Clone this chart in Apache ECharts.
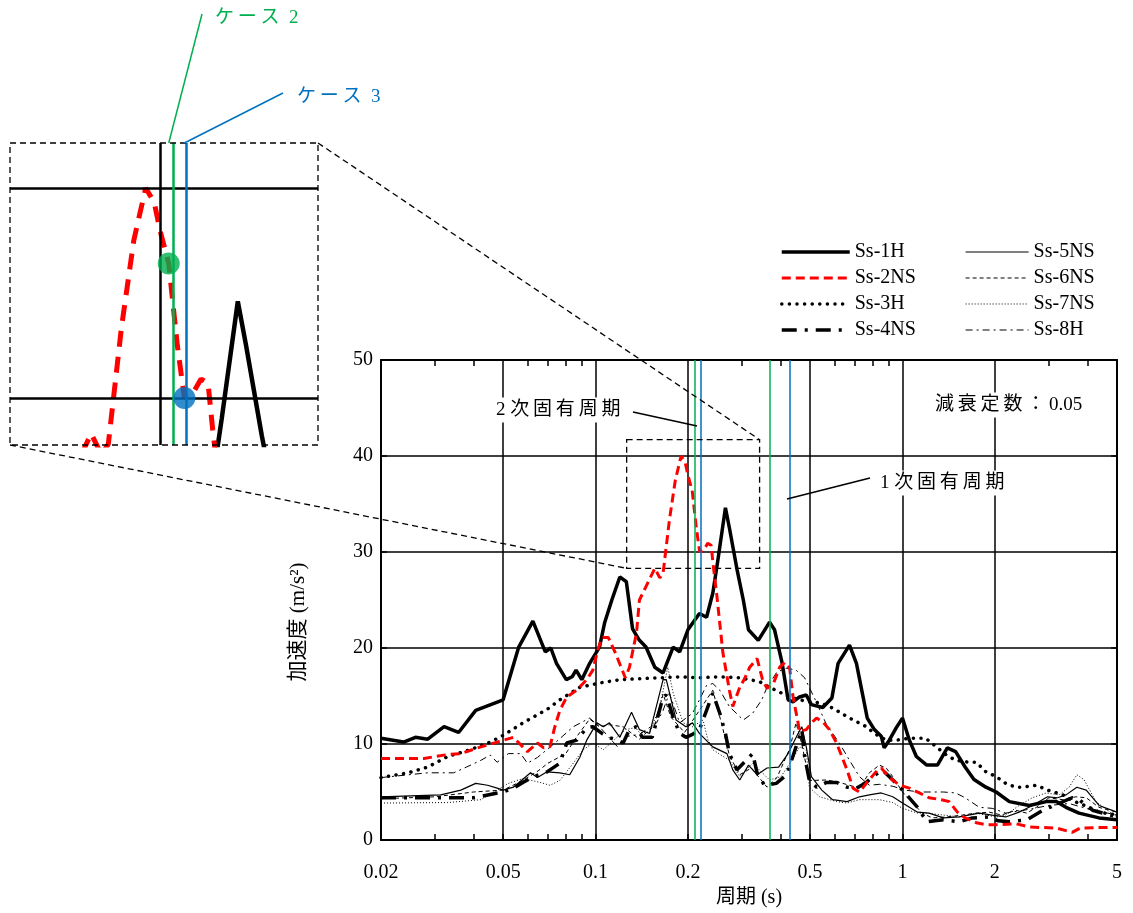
<!DOCTYPE html>
<html><head><meta charset="utf-8">
<script src="https://cdn.jsdelivr.net/npm/echarts@6/dist/echarts.min.js"></script>
<style>html,body{margin:0;padding:0;background:#fff}#c{width:1133px;height:913px}</style>
</head><body><div id="c"></div>
<script>
const FONT = "'Liberation Serif','Noto Sans CJK JP',serif";
const GREEN = '#00b050';
const BLUE = '#0070c0';

// ---- axis ticks ----
const xMajorTicks = [0.02, 0.05, 0.1, 0.2, 0.5, 1, 2, 5];
const xMinorTicks = [0.03, 0.04, 0.06, 0.07, 0.08, 0.09, 0.3, 0.4, 0.6, 0.7, 0.8, 0.9, 3, 4];
const yRange = [0, 50];
const yStep = 10;

// ---- natural periods (s) : [case 2, case 3] ----
const mode2Periods = [0.2065, 0.2185];
const mode1Periods = [0.3667, 0.4283];
const casePointValues = [36.4, 30.0]; // Ss-2NS acceleration at 2nd-mode periods

// ---- zoom box (main chart coords) and inset ranges ----
const zoomBoxX = [0.1263, 0.3424];
const zoomBoxY = [28.3, 41.7];
const insetX = [0.1164, 0.354];
const insetY = [27.76, 42.14];

// ---- series data [period (s), acceleration (m/s2)] ----
const ss1H = [[0.02,10.6],[0.0237,10.2],[0.0259,10.7],[0.0284,10.5],[0.0321,11.8],[0.0358,11.2],[0.0407,13.5],[0.05,14.6],[0.0562,20.1],[0.0625,22.8],[0.0686,19.6],[0.0715,20.0],[0.0746,18.4],[0.0803,16.7],[0.0839,17.0],[0.0864,17.7],[0.0902,16.7],[0.0957,18.4],[0.103,20.1],[0.107,22.6],[0.113,25.0],[0.12,27.4],[0.126,26.9],[0.132,22.0],[0.139,20.8],[0.146,20.1],[0.156,18.0],[0.166,17.4],[0.179,20.1],[0.188,19.6],[0.2,21.9],[0.218,23.6],[0.23,23.2],[0.241,25.7],[0.25,29.0],[0.265,34.6],[0.273,32.5],[0.289,28.2],[0.303,25.0],[0.315,21.9],[0.339,20.8],[0.369,22.7],[0.383,21.9],[0.405,18.5],[0.424,14.6],[0.44,14.4],[0.462,14.9],[0.486,15.1],[0.505,14.1],[0.55,13.8],[0.589,14.8],[0.617,18.4],[0.672,20.3],[0.708,18.4],[0.768,12.7],[0.81,11.5],[0.853,10.8],[0.872,9.6],[0.906,10.4],[0.955,11.7],[1.0,12.7],[1.053,10.4],[1.11,8.7],[1.2,7.8],[1.3,7.8],[1.4,9.6],[1.49,9.2],[1.6,7.6],[1.71,6.3],[1.87,5.5],[2.02,5.0],[2.23,4.0],[2.59,3.6],[2.94,4.0],[3.17,4.0],[3.41,3.4],[3.76,2.8],[4.37,2.3],[5.0,2.1]];
const ss2NS = [[0.02,8.5],[0.0276,8.5],[0.033,8.9],[0.0364,9.0],[0.0423,9.7],[0.0478,10.2],[0.054,10.7],[0.06,9.2],[0.0647,10.1],[0.0678,9.6],[0.071,9.7],[0.0737,11.8],[0.0765,13.5],[0.0806,14.9],[0.0868,15.6],[0.0936,16.7],[0.098,17.7],[0.1017,19.8],[0.105,21.1],[0.11,21.1],[0.116,19.5],[0.125,16.9],[0.129,18.0],[0.136,21.6],[0.139,25.0],[0.146,26.4],[0.156,28.3],[0.162,27.3],[0.166,27.8],[0.174,33.3],[0.182,37.5],[0.19,40.0],[0.196,39.3],[0.2,38.0],[0.2065,36.4],[0.213,32.5],[0.2185,30.0],[0.225,30.2],[0.232,30.9],[0.238,30.7],[0.242,28.5],[0.248,25.7],[0.26,19.5],[0.273,15.6],[0.28,13.9],[0.295,15.9],[0.307,16.9],[0.318,18.0],[0.336,18.9],[0.35,16.7],[0.362,15.8],[0.38,16.3],[0.398,18.0],[0.414,18.5],[0.429,17.9],[0.44,14.9],[0.457,12.2],[0.462,11.3],[0.486,11.5],[0.505,12.2],[0.525,12.7],[0.55,12.3],[0.578,11.5],[0.61,10.1],[0.66,7.3],[0.69,5.4],[0.724,5.0],[0.78,6.3],[0.83,7.3],[0.853,7.5],[0.906,6.5],[0.98,5.7],[1.053,5.4],[1.135,4.9],[1.22,4.4],[1.34,4.2],[1.42,4.0],[1.51,2.9],[1.6,2.3],[1.74,1.8],[1.87,1.6],[2.05,1.6],[2.34,1.7],[2.59,1.35],[3.17,1.25],[3.57,0.8],[3.8,1.25],[4.37,1.3],[5.0,1.3]];
const ss3H = [[0.02,6.5],[0.0245,7.0],[0.0284,7.6],[0.033,8.7],[0.039,9.4],[0.0454,10.2],[0.05,10.9],[0.058,12.2],[0.0695,13.6],[0.0765,14.6],[0.0888,15.9],[0.103,16.35],[0.12,16.7],[0.139,16.8],[0.162,16.9],[0.188,17.0],[0.218,16.9],[0.254,17.0],[0.295,16.9],[0.342,16.5],[0.369,15.9],[0.398,15.4],[0.429,14.9],[0.462,14.6],[0.498,14.4],[0.537,14.3],[0.592,13.75],[0.672,12.7],[0.763,11.8],[0.81,11.1],[0.885,10.4],[0.955,10.4],[1.053,10.6],[1.19,10.6],[1.29,9.7],[1.39,8.85],[1.49,8.3],[1.65,8.1],[1.74,8.1],[1.87,7.1],[2.02,6.6],[2.17,5.9],[2.34,5.5],[2.45,5.5],[2.73,5.7],[2.97,5.2],[3.33,4.7],[3.64,4.0],[4.06,3.4],[4.37,2.9],[5.0,2.6]];
const ss4NS = [[0.02,4.4],[0.031,4.4],[0.04,4.4],[0.05,5.0],[0.054,5.4],[0.058,6.0],[0.063,6.6],[0.0695,7.1],[0.0765,8.0],[0.0806,10.1],[0.0868,10.4],[0.0936,11.7],[0.098,11.8],[0.105,11.1],[0.11,10.7],[0.118,10.4],[0.123,10.1],[0.129,11.5],[0.136,11.8],[0.142,10.7],[0.153,10.7],[0.166,14.9],[0.17,15.1],[0.179,12.8],[0.188,11.1],[0.197,10.7],[0.207,11.0],[0.218,11.5],[0.23,13.5],[0.241,15.3],[0.254,13.2],[0.265,11.1],[0.273,9.0],[0.289,7.3],[0.303,8.0],[0.325,9.0],[0.336,7.0],[0.355,5.7],[0.388,5.9],[0.42,6.8],[0.45,9.7],[0.47,11.5],[0.48,8.7],[0.497,6.25],[0.525,5.5],[0.566,6.0],[0.61,6.0],[0.66,5.5],[0.708,5.4],[0.763,6.0],[0.8,6.6],[0.86,7.3],[0.93,6.25],[1.0,5.2],[1.12,3.4],[1.2,1.9],[1.36,2.1],[1.53,1.9],[1.69,2.3],[1.92,2.4],[2.05,2.0],[2.23,1.9],[2.54,2.1],[2.87,3.1],[3.57,4.4],[3.76,4.2],[4.16,3.1],[4.74,2.6],[5.0,2.4]];
const ss5NS = [[0.02,4.5],[0.0313,4.7],[0.0364,5.2],[0.0407,5.9],[0.0445,5.7],[0.0478,5.4],[0.05,5.2],[0.054,5.5],[0.0614,7.0],[0.0647,6.5],[0.0695,7.1],[0.0765,7.0],[0.0824,6.8],[0.0888,8.6],[0.0936,10.4],[0.101,12.2],[0.106,11.8],[0.111,12.2],[0.12,10.7],[0.131,13.3],[0.139,11.5],[0.15,11.1],[0.166,16.7],[0.17,16.7],[0.183,12.5],[0.197,11.8],[0.207,12.2],[0.218,11.1],[0.241,9.7],[0.268,9.0],[0.28,7.3],[0.295,6.25],[0.315,7.8],[0.336,6.8],[0.362,7.5],[0.395,7.6],[0.424,9.0],[0.457,11.1],[0.47,11.8],[0.486,9.7],[0.505,6.6],[0.546,5.2],[0.592,4.2],[0.66,4.0],[0.724,4.5],[0.78,4.7],[0.853,4.9],[0.93,4.5],[1.0,3.85],[1.12,2.9],[1.22,2.8],[1.36,2.3],[1.53,2.4],[1.78,2.8],[1.96,2.6],[2.17,2.4],[2.4,2.9],[2.65,3.6],[2.97,4.5],[3.2,4.4],[3.41,4.7],[3.7,5.5],[3.97,5.2],[4.37,3.6],[5.0,2.9]];
const ss6NS = [[0.02,4.3],[0.03,4.5],[0.04,5.0],[0.05,5.2],[0.058,6.2],[0.065,7.2],[0.07,8.0],[0.08,9.0],[0.087,10.8],[0.0957,12.6],[0.103,11.8],[0.111,12.0],[0.123,11.8],[0.139,10.5],[0.156,12.0],[0.166,15.2],[0.176,12.8],[0.195,11.2],[0.218,13.5],[0.241,15.6],[0.258,12.0],[0.273,8.8],[0.295,6.8],[0.322,7.5],[0.362,5.5],[0.39,6.5],[0.429,9.5],[0.45,12.2],[0.47,10.0],[0.497,6.2],[0.566,6.25],[0.623,6.0],[0.724,5.4],[0.78,7.0],[0.841,7.8],[0.885,7.5],[0.93,6.6],[1.0,5.0],[1.08,3.85],[1.16,2.8],[1.25,2.3],[1.39,2.4],[1.57,2.6],[1.74,2.8],[1.92,2.9],[2.1,2.6],[2.34,3.1],[2.54,2.8],[2.73,3.4],[3.0,4.4],[3.33,4.2],[3.67,4.5],[3.97,4.4],[4.37,3.4],[5.0,2.9]];
const ss7NS = [[0.02,3.85],[0.033,3.9],[0.0423,4.2],[0.052,5.9],[0.058,6.4],[0.066,6.0],[0.071,5.7],[0.0765,6.2],[0.0846,8.0],[0.0912,9.4],[0.098,10.1],[0.106,9.4],[0.113,10.2],[0.125,11.5],[0.135,11.7],[0.139,11.2],[0.15,11.2],[0.162,13.9],[0.172,18.0],[0.179,15.3],[0.193,12.2],[0.207,11.8],[0.224,12.5],[0.232,10.5],[0.241,9.4],[0.273,8.3],[0.295,6.6],[0.325,8.0],[0.369,6.25],[0.402,6.6],[0.436,8.3],[0.462,9.7],[0.486,9.4],[0.497,5.5],[0.537,4.5],[0.61,4.0],[0.66,3.85],[0.724,4.2],[0.841,4.2],[0.93,3.9],[1.0,3.3],[1.12,2.8],[1.2,2.8],[1.36,2.6],[1.53,2.4],[1.74,2.8],[2.02,2.4],[2.17,2.6],[2.4,3.6],[2.65,4.4],[2.94,4.9],[3.24,4.7],[3.49,5.5],[3.7,6.8],[3.9,6.3],[4.27,4.0],[4.74,2.9],[5.0,2.4]];
const ss8H = [[0.02,6.5],[0.0284,7.0],[0.0345,7.0],[0.038,7.6],[0.0423,8.3],[0.0454,8.85],[0.0478,8.1],[0.052,9.0],[0.057,9.0],[0.06,8.0],[0.0647,8.6],[0.0737,10.1],[0.0846,11.8],[0.0957,12.7],[0.103,11.8],[0.118,9.7],[0.127,10.8],[0.139,11.0],[0.158,12.2],[0.166,13.5],[0.174,15.3],[0.188,12.2],[0.207,13.2],[0.218,14.6],[0.23,16.1],[0.241,16.3],[0.254,15.6],[0.273,13.9],[0.303,12.5],[0.325,13.2],[0.348,14.6],[0.362,15.9],[0.39,17.5],[0.42,17.9],[0.45,17.7],[0.48,16.9],[0.52,14.6],[0.566,12.0],[0.623,10.1],[0.672,8.3],[0.724,6.6],[0.78,5.7],[0.841,5.8],[0.93,5.6],[1.02,5.2],[1.135,5.0],[1.36,5.0],[1.49,4.9],[1.6,4.4],[1.78,3.4],[1.96,3.3],[2.17,2.8],[2.59,3.2],[3.0,3.6],[3.49,3.8],[4.06,3.2],[5.0,2.6]];

const seriesNames = ['Ss-1H','Ss-2NS','Ss-3H','Ss-4NS','Ss-5NS','Ss-6NS','Ss-7NS','Ss-8H'];
const seriesData = [ss1H, ss2NS, ss3H, ss4NS, ss5NS, ss6NS, ss7NS, ss8H];
const seriesStyles = [
  {color:'#000', width:3.5, type:'solid'},
  {color:'#ff0000', width:3, type:[9,5]},
  {color:'#000', width:3.5, type:[0.1,7.5], cap:'round'},
  {color:'#000', width:3.5, type:[15,8,3,8]},
  {color:'#000', width:1.2, type:'solid'},
  {color:'#000', width:1, type:[4,3]},
  {color:'#000', width:1, type:[1,2]},
  {color:'#000', width:1, type:[7,4,2,4]}
];

const chart = echarts.init(document.getElementById('c'), null, {renderer:'canvas'});

const series = seriesNames.map((n, i) => ({
  name: n, type: 'line', xAxisIndex: 0, yAxisIndex: 0,
  data: seriesData[i], symbol: 'none', showSymbol: false, animation: false,
  lineStyle: seriesStyles[i], itemStyle: {color: seriesStyles[i].color},
  z: i === 1 ? 4 : (i === 0 ? 3 : 2),
  silent: true
}));
series[0].markLine = {
  silent: true, symbol: ['none','none'], label: {show:false}, animation: false,
  data: [
    {xAxis: mode2Periods[0], lineStyle:{color:GREEN, width:1.5, type:'solid'}},
    {xAxis: mode2Periods[1], lineStyle:{color:BLUE, width:1.5, type:'solid'}},
    {xAxis: mode1Periods[0], lineStyle:{color:GREEN, width:1.5, type:'solid'}},
    {xAxis: mode1Periods[1], lineStyle:{color:BLUE, width:1.5, type:'solid'}}
  ]
};
// inset series
series.push({
  name: 'Ss-1H', id: 'inset1H', type: 'line', xAxisIndex: 3, yAxisIndex: 2, data: ss1H,
  symbol: 'none', animation: false, clip: true, silent: true,
  lineStyle: {color:'#000', width:4.5}, z: 3,
  markLine: {
    silent: true, symbol: ['none','none'], label: {show:false}, animation: false,
    data: [
      {xAxis: 0.2, lineStyle:{color:'#000', width:2.5, type:'solid'}},
      {yAxis: 30, lineStyle:{color:'#000', width:2.5, type:'solid'}},
      {yAxis: 40, lineStyle:{color:'#000', width:2.5, type:'solid'}},
      {xAxis: mode2Periods[0], lineStyle:{color:GREEN, width:2.5, type:'solid'}},
      {xAxis: mode2Periods[1], lineStyle:{color:BLUE, width:2.5, type:'solid'}}
    ]
  }
});
series.push({
  name: 'Ss-2NS', id: 'inset2NS', type: 'line', xAxisIndex: 3, yAxisIndex: 2, data: ss2NS,
  symbol: 'none', animation: false, clip: true, silent: true,
  lineStyle: {color:'#ff0000', width:5, type:[16,10]}, z: 4
});
series.push({
  name: 'cases', id: 'insetDots', type: 'scatter', xAxisIndex: 3, yAxisIndex: 2,
  symbolSize: 22, animation: false, silent: true, z: 6,
  data: [
    {value: [mode2Periods[0], casePointValues[0]], itemStyle:{color:GREEN}},
    {value: [mode2Periods[1], casePointValues[1]], itemStyle:{color:BLUE}}
  ]
});

const axisLineStyle = {color:'#000', width:2};
const fmt = v => String(+(+v).toPrecision(3));

const option = {
  animation: false,
  backgroundColor: '#fff',
  textStyle: {fontFamily: FONT},
  grid: [
    {left:381, top:360, width:736, height:480, outerBoundsMode:'none', containLabel:false},
    {left:10, top:143, width:308, height:302, outerBoundsMode:'none', containLabel:false}
  ],
  legend: [
    {data: seriesNames.slice(0,4), orient:'vertical', left:780, top:242, padding:0, itemWidth:68, itemHeight:14, itemGap:6,
     textStyle:{fontFamily:FONT, fontSize:20, color:'#000'}, selectedMode:false,
     lineStyle:{width:'inherit'}, itemStyle:{opacity:0}},
    {data: seriesNames.slice(4,8), orient:'vertical', left:965, top:242, padding:0, itemWidth:63, itemHeight:14, itemGap:6,
     textStyle:{fontFamily:FONT, fontSize:20, color:'#000'}, selectedMode:false,
     lineStyle:{width:'inherit'}, itemStyle:{opacity:0}}
  ],
  xAxis: [
    {type:'log', logBase:10, gridIndex:0, min:0.02, max:5, position:'bottom',
     axisLine:{show:true, lineStyle:axisLineStyle},
     axisTick:{show:true, inside:true, length:6, customValues:xMajorTicks, lineStyle:{color:'#000', width:1.5}},
     axisLabel:{show:true, customValues:xMajorTicks, formatter:fmt, fontFamily:FONT, fontSize:20, color:'#000', margin:23},
     splitLine:{show:true, lineStyle:{color:'#000', width:1.5}},
     minorTick:{show:false}, minorSplitLine:{show:false},
     name:'周期 (s)', nameLocation:'middle', nameGap:44,
     nameTextStyle:{fontFamily:FONT, fontSize:20, color:'#000'}},
    {type:'log', logBase:10, gridIndex:0, min:0.02, max:5, position:'bottom',
     axisLine:{show:false}, axisLabel:{show:false}, splitLine:{show:false},
     axisTick:{show:true, inside:true, length:6, customValues:xMinorTicks, lineStyle:{color:'#000', width:1.5}}},
    {type:'log', logBase:10, gridIndex:0, min:0.02, max:5, position:'top',
     axisLine:{show:true, lineStyle:axisLineStyle}, axisLabel:{show:false}, splitLine:{show:false},
     axisTick:{show:true, inside:true, length:6, customValues:xMinorTicks, lineStyle:{color:'#000', width:1.5}}},
    {type:'log', logBase:10, gridIndex:1, min:insetX[0], max:insetX[1], show:false,
     splitLine:{show:false}}
  ],
  yAxis: [
    {type:'value', gridIndex:0, min:yRange[0], max:yRange[1], interval:yStep,
     axisLine:{show:true, lineStyle:axisLineStyle},
     axisTick:{show:true, inside:true, length:6, lineStyle:{color:'#000', width:1.5}},
     axisLabel:{fontFamily:FONT, fontSize:20, color:'#000', margin:8},
     splitLine:{show:true, lineStyle:{color:'#000', width:1.5}},
     name:'加速度 (m/s²)', nameLocation:'middle', nameGap:72, nameRotate:90,
     nameTextStyle:{fontFamily:FONT, fontSize:21, color:'#000', padding:[0,44,0,0]}},
    {type:'value', gridIndex:0, min:yRange[0], max:yRange[1], interval:yStep, position:'right',
     axisLine:{show:true, lineStyle:axisLineStyle},
     axisTick:{show:true, inside:true, length:6, lineStyle:{color:'#000', width:1.5}},
     axisLabel:{show:false}, splitLine:{show:false}},
    {type:'value', gridIndex:1, min:insetY[0], max:insetY[1], show:false, splitLine:{show:false}}
  ],
  series: series
};
chart.setOption(option);

// ---- annotations positioned from data coordinates ----
const P = (x, y) => chart.convertToPixel({seriesIndex:0}, [x, y]);
const Q = (x, y) => chart.convertToPixel({seriesIndex:8}, [x, y]);
const b0 = P(zoomBoxX[0], zoomBoxY[1]), b1 = P(zoomBoxX[1], zoomBoxY[0]);
const i0 = Q(insetX[0], insetY[1]), i1 = Q(insetX[1], insetY[0]);
const c2 = Q(mode2Periods[0], insetY[1]), c3 = Q(mode2Periods[1], insetY[1]);
const dash = {stroke:'#000', lineWidth:1.3, lineDash:[6,4], fill:null};
const txt = (text, x, y, color, align, bg) => ({
  type:'text', x:x, y:y, z:100, silent:true,
  style:{text:text, fill:color || '#000', font:'19px ' + FONT, align:align || 'left', verticalAlign:'middle',
    backgroundColor: bg ? '#fff' : null, padding: bg ? [3,3] : 0}
});
chart.setOption({graphic: [
  {type:'rect', z:90, silent:true, shape:{x:b0[0], y:b0[1], width:b1[0]-b0[0], height:b1[1]-b0[1]}, style:dash},
  {type:'rect', z:90, silent:true, shape:{x:i0[0], y:i0[1], width:i1[0]-i0[0], height:i1[1]-i0[1]}, style:dash},
  {type:'line', z:90, silent:true, shape:{x1:i1[0], y1:i0[1], x2:b1[0], y2:b0[1]}, style:dash},
  {type:'line', z:90, silent:true, shape:{x1:i0[0], y1:i1[1], x2:b0[0], y2:b1[1]}, style:dash},
  {type:'line', z:90, silent:true, shape:{x1:c2[0], y1:c2[1], x2:202, y2:14}, style:{stroke:GREEN, lineWidth:1.5}},
  {type:'line', z:90, silent:true, shape:{x1:c3[0], y1:c3[1], x2:283, y2:93}, style:{stroke:BLUE, lineWidth:1.5}},
  txt('ケ\u2009ー\u2009ス  2', 215, 18, GREEN),
  txt('ケ\u2009ー\u2009ス  3', 297, 97, BLUE),
  {type:'line', z:95, silent:true, shape:{x1:633, y1:412, x2:697, y2:426}, style:{stroke:'#000', lineWidth:1.5}},
  {type:'line', z:95, silent:true, shape:{x1:870, y1:478, x2:787, y2:499}, style:{stroke:'#000', lineWidth:1.5}},
  txt('2 次\u2009固\u2009有\u2009周\u2009期', 493, 410, '#000', 'left', true),
  txt('1 次\u2009固\u2009有\u2009周\u2009期', 877, 483, '#000', 'left', true),
  txt('減\u2009衰\u2009定\u2009数\u2009：\u20090.05', 932, 405, '#000', 'left', true)
]});
</script>
</body></html>
